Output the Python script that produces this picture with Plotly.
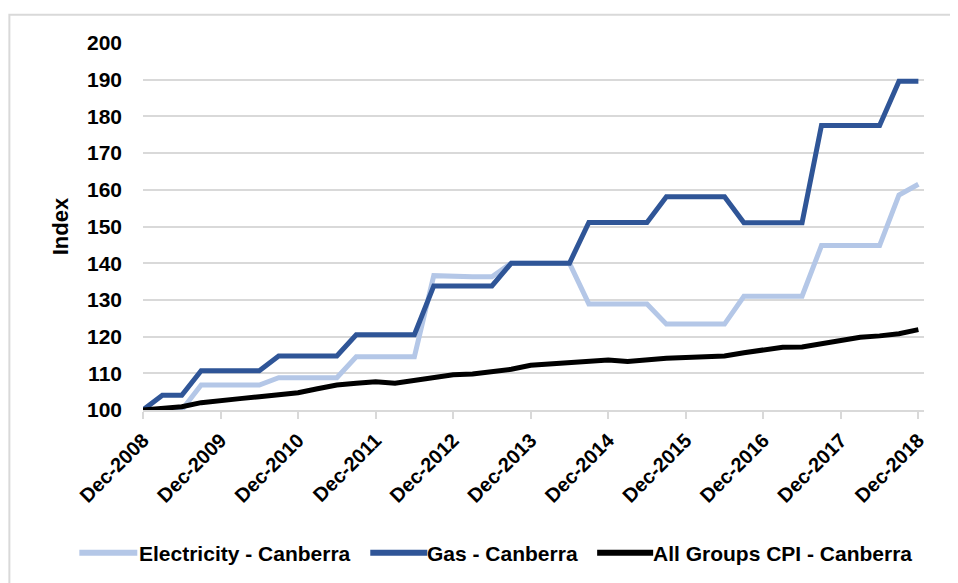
import plotly.graph_objects as go

# quarterly index, Dec-2008 = 100
months = ["Dec", "Mar", "Jun", "Sep"]
quarters = []
for i in range(41):
    year = 2008 + (i + 2) // 4
    quarters.append(f"{months[i % 4]}-{year}")

year_ticks = ["Dec-2008", "Dec-2009", "Dec-2010", "Dec-2011", "Dec-2012", "Dec-2013",
              "Dec-2014", "Dec-2015", "Dec-2016", "Dec-2017", "Dec-2018"]

electricity = [100.0, 100.0, 100.0, 106.8, 106.8, 106.8, 106.8, 108.8, 108.8, 108.8,
               108.8, 114.5, 114.5, 114.5, 114.5, 136.6, 136.3, 136.3, 136.3, 140.0,
               140.0, 140.0, 140.0, 128.9, 128.9, 128.9, 128.9, 123.4, 123.4, 123.4,
               123.4, 131.0, 131.0, 131.0, 131.0, 144.8, 144.8, 144.8, 144.8, 158.6,
               161.5]
gas = [100.0, 104.0, 104.0, 110.7, 110.7, 110.7, 110.7, 114.7, 114.7, 114.7,
       114.7, 120.5, 120.5, 120.5, 120.5, 133.8, 133.8, 133.8, 133.8, 140.0,
       140.0, 140.0, 140.0, 151.1, 151.1, 151.1, 151.1, 158.1, 158.1, 158.1,
       158.1, 151.0, 151.0, 151.0, 151.0, 177.5, 177.5, 177.5, 177.5, 189.6,
       189.6]
cpi = [100.0, 100.3, 100.9, 102.0, 102.4, 103.1, 103.6, 104.2, 104.7, 105.8,
       106.8, 107.3, 107.7, 107.3, 108.0, 108.8, 109.6, 109.8, 110.5, 111.1,
       112.2, 112.6, 113.0, 113.3, 113.6, 113.2, 113.8, 114.1, 114.3, 114.6,
       114.7, 115.6, 116.4, 117.1, 117.2, 118.0, 118.9, 119.8, 120.2, 120.8,
       121.9]

series_names = ["Electricity - Canberra", "Gas - Canberra", "All Groups CPI - Canberra"]
series_colors = ["#b4c7e7", "#2f5597", "#000000"]

FONT = "Liberation Sans"
GRID = "#d9d9d9"
BOLD = dict(family=FONT, size=21, color="black", weight="bold")

fig = go.Figure()
for name, values, color in zip(series_names, [electricity, gas, cpi], series_colors):
    fig.add_trace(go.Scatter(x=quarters, y=values, mode="lines", name=name,
                             line=dict(color=color, width=5)))

# chart area border (runs off the right / bottom of the crop)
fig.add_shape(type="rect", xref="paper", yref="paper",
              x0=-0.1711, y0=-0.57, x1=1.1, y1=1.077,
              line=dict(color=GRID, width=2))

# legend drawn by hand so the line samples are as long as Excel's
legend_lines = [(-0.0815, -0.0073), (0.2910, 0.3640), (0.5815, 0.6532)]
legend_text_x = [-0.0073, 0.3613, 0.6506]
for (lx0, lx1), tx, name, color in zip(legend_lines, legend_text_x, series_names, series_colors):
    fig.add_shape(type="line", xref="paper", yref="paper", x0=lx0, x1=lx1, y0=-0.3889, y1=-0.3889,
                  line=dict(color=color, width=6))
    fig.add_annotation(xref="paper", yref="paper", x=tx, y=-0.3907, text=name, showarrow=False,
                       xanchor="left", yanchor="middle", font=BOLD)

fig.update_layout(
    width=950, height=575,
    margin=dict(l=134.7, r=34, t=35.3, b=172.5),
    plot_bgcolor="white", paper_bgcolor="white",
    font=BOLD,
    showlegend=False,
    xaxis=dict(type="category", range=[0, 40.29], tickmode="array", tickvals=year_ticks,
               tickangle=-45, ticks="outside", ticklen=7, tickcolor=GRID, tickwidth=1.5,
               showline=True, linecolor=GRID, linewidth=1.5, showgrid=False,
               ticklabelstandoff=2, automargin=False,
               tickfont=dict(family=FONT, size=20, color="black", weight="bold")),
    yaxis=dict(range=[100, 200], dtick=10, showgrid=True, gridcolor=GRID, gridwidth=1.5,
               zeroline=False, showline=False, ticks="", ticklabelstandoff=20,
               automargin=False, tickfont=BOLD,
               title=dict(text="Index", standoff=12,
                          font=dict(family=FONT, size=22, color="black", weight="bold"))),
)

fig.write_html("out.html")
